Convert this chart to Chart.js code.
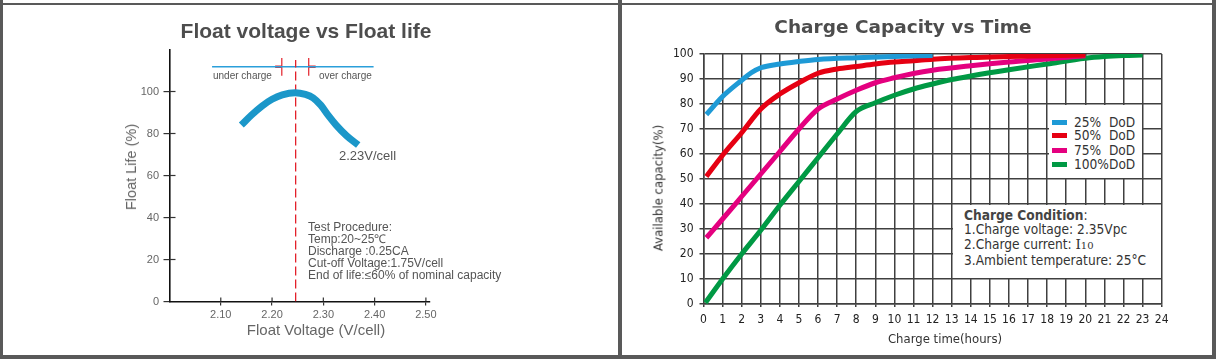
<!DOCTYPE html>
<html><head><meta charset="utf-8">
<script src="https://cdn.jsdelivr.net/npm/chart.js@4.4.1/dist/chart.umd.min.js"></script>
<style>
body{margin:0;width:1216px;height:359px;position:relative;overflow:hidden;background:#fff;}
.t{position:absolute;white-space:pre;line-height:1;}
.c{transform:translate(-50%,-50%);}
.band{position:absolute;background:#595959;}
.box{position:absolute;background:#fff;}
</style></head><body>
<canvas id="c1" width="620" height="359" style="position:absolute;left:0;top:0"></canvas>
<canvas id="c2" width="596" height="359" style="position:absolute;left:620px;top:0"></canvas>

<div class="band" style="left:0;top:0;width:3px;height:359px"></div>
<div class="band" style="left:0;top:3px;width:1216px;height:2px"></div>
<div class="band" style="left:618px;top:0;width:4px;height:359px"></div>
<div class="band" style="left:1212px;top:0;width:4px;height:359px"></div>
<div class="band" style="left:0;top:355px;width:1216px;height:4px"></div>

<!-- left chart texts -->
<div class="t c" style="left:306px;top:31px;font:bold 21px 'Liberation Sans',Arial,sans-serif;color:#4d4d4d">Float voltage vs Float life</div>
<div class="t c" style="left:130.5px;top:167px;transform:translate(-50%,-50%) rotate(-90deg);font:14.5px 'Liberation Sans',Arial,sans-serif;color:#666">Float Life (%)</div>
<div class="t c" style="left:316px;top:329px;font:15px 'Liberation Sans',Arial,sans-serif;color:#666">Float Voltage (V/cell)</div>
<div class="t" style="left:213px;top:70px;font:10px 'Liberation Sans',Arial,sans-serif;color:#555">under charge</div>
<div class="t" style="left:319px;top:70px;font:10px 'Liberation Sans',Arial,sans-serif;color:#555">over charge</div>
<div class="t" style="left:339px;top:147.5px;font:13px 'Liberation Sans',Arial,sans-serif;color:#555">2.23V/cell</div>
<div class="t" style="left:308px;top:220.5px;font:12px 'Liberation Sans',Arial,sans-serif;color:#555;line-height:12px">Test Procedure:
Temp:20~25℃
Discharge :0.25CA
Cut-off Voltage:1.75V/cell
End of life:≤60% of nominal capacity</div>

<!-- right chart texts -->
<div class="t c" style="left:903px;top:26px;font:bold 18.5px 'DejaVu Sans',sans-serif;color:#4d4d4d">Charge Capacity vs Time</div>
<div class="t c" style="left:658px;top:188px;transform:translate(-50%,-50%) rotate(-90deg);font:13px 'DejaVu Sans Condensed','DejaVu Sans',sans-serif;color:#333">Available capacity(%)</div>
<div class="t c" style="left:945px;top:338px;font:13px 'DejaVu Sans Condensed','DejaVu Sans',sans-serif;color:#333">Charge time(hours)</div>
<div class="box" id="legend" style="left:1048.5px;top:105px;width:93px;height:73px"></div>
<div class="box" style="left:953px;top:205px;width:207.5px;height:73px">
<div class="t" style="left:11px;top:3px;font:13.6px 'DejaVu Sans Condensed','DejaVu Sans',sans-serif;color:#333;line-height:14.3px"><b style="color:#444">Charge Condition</b>:
1.Charge voltage: 2.35Vpc
2.Charge current: <span style="font-family:'DejaVu Serif',serif">I<span style="font-size:10px">10</span></span>
3.Ambient temperature: 25°C</div>
</div>

<script>
// ---------- Float voltage vs Float life ----------
const floatVoltage = [2.140, 2.160, 2.180, 2.200, 2.220, 2.245, 2.265, 2.280, 2.295, 2.310, 2.325, 2.345, 2.368];
const floatLife    = [84,    88.8,  93,    96.3,  98.4,  99.4,  98.6,  97,    93.5,  88.5,  84,    79,    74.5];
const floatXTicks  = [2.10, 2.20, 2.30, 2.40, 2.50];
const floatYTicks  = [0, 20, 40, 60, 80, 100];
const optimumVoltage    = [2.246, 2.246];
const optimumLife       = [0, 115];
const chargeBandVoltage = [2.083, 2.398];
const chargeBandLife    = [111.8, 111.8];
const underLimitVoltage = [2.219, 2.219];
const overLimitVoltage  = [2.2715, 2.2715];
const limitLife         = [107.5, 116];
const underArrowVoltage = [2.206, 2.219];
const overArrowVoltage  = [2.2715, 2.285];

// ---------- Charge Capacity vs Time ----------
const hours25    = [0.15, 1, 2, 2.5, 3, 4, 5, 6, 8, 10, 12];
const capacity25 = [75.8, 83, 89.5, 92.5, 94.5, 96, 97, 97.8, 98.5, 99, 99.4];
const hours50    = [0.15, 1, 2, 3, 4, 5, 6, 7, 8, 9, 10, 11, 12, 14, 16, 18, 20];
const capacity50 = [51, 59.5, 68.5, 78, 84, 88.5, 92.3, 94, 95, 96, 96.8, 97.3, 97.9, 98.6, 99, 99.3, 99.6];
const hours75    = [0.15, 1, 2, 3, 4, 5, 6, 7, 8, 9, 10, 11, 12, 14, 16, 18, 20];
const capacity75 = [26.5, 34, 43, 52, 61, 70, 78, 82, 85.5, 88.5, 90.5, 92.2, 93.5, 95.3, 96.8, 98, 99.3];
const hours100    = [0.1, 1, 2, 3, 4, 5, 6, 7, 8, 9, 10, 11, 12, 13, 14, 16, 18, 20, 21, 22, 23];
const capacity100 = [0.5, 10, 20, 29.5, 39.5, 49, 58.5, 68, 77, 80.5, 83.5, 86, 88, 89.8, 91.2, 93.7, 96, 98.3, 99, 99.4, 99.6];
const hourTicks     = [0,1,2,3,4,5,6,7,8,9,10,11,12,13,14,15,16,17,18,19,20,21,22,23,24];
const capacityTicks = [0,10,20,30,40,50,60,70,80,90,100];
const seriesLabels  = ['25%  DoD', '50%  DoD', '75%  DoD', '100%DoD'];
const seriesColors  = ['#1e9ad6', '#e60012', '#e4007f', '#009944'];

const pts = (xs, ys) => xs.map((x, i) => ({x, y: ys[i]}));
const seg = (data, color, width, dash) => ({data, borderColor: color, borderWidth: width, borderDash: dash || [], pointRadius: 0, tension: 0, fill: false});

const innerTicks = {
  id: 'innerTicks',
  afterDatasetsDraw(chart) {
    const {ctx, scales: {x, y}, chartArea: a} = chart;
    ctx.save();
    ctx.strokeStyle = '#333'; ctx.lineWidth = 1.2;
    x.ticks.forEach(t => { const p = x.getPixelForValue(t.value); ctx.beginPath(); ctx.moveTo(p, a.bottom); ctx.lineTo(p, a.bottom - 4); ctx.stroke(); });
    y.ticks.forEach(t => { if (t.value === 0) return; const p = y.getPixelForValue(t.value); ctx.beginPath(); ctx.moveTo(a.left, p); ctx.lineTo(a.left + 6, p); ctx.stroke(); });
    ctx.restore();
  }
};

new Chart(document.getElementById('c1'), {
  type: 'line',
  data: { datasets: [
    {data: pts(floatVoltage, floatLife), borderColor: '#1b97c9', borderWidth: 7, pointRadius: 0, tension: 0.4, cubicInterpolationMode: 'monotone', fill: false},
    seg(pts(optimumVoltage, optimumLife), '#e3202a', 1.3, [9, 4]),
    seg(pts(chargeBandVoltage, chargeBandLife), '#2b9fda', 1.4),
    seg(pts(underLimitVoltage, limitLife), '#e3202a', 1.2),
    seg(pts(overLimitVoltage, limitLife), '#e3202a', 1.2),
    seg(pts(underArrowVoltage, chargeBandLife), '#e3202a', 2.5),
    seg(pts(overArrowVoltage, chargeBandLife), '#e3202a', 2.5)
  ]},
  plugins: [innerTicks],
  options: {
    responsive: false, animation: false, devicePixelRatio: 1,
    layout: {padding: {left: 100, right: 190, top: 49.5, bottom: 27.5}},
    plugins: {legend: {display: false}, tooltip: {enabled: false}},
    scales: {
      x: {type: 'linear', min: 2.0, max: 2.508,
        afterBuildTicks: s => { s.ticks = floatXTicks.map(v => ({value: v})); },
        afterFit: s => { s.height = 30; },
        grid: {drawOnChartArea: false, tickLength: 4, color: '#333', lineWidth: 1.2},
        border: {color: '#111', width: 1.6},
        ticks: {padding: 3, color: '#666', font: {family: "'Liberation Sans', Arial, sans-serif", size: 11}, callback: v => v.toFixed(2), maxRotation: 0}
      },
      y: {type: 'linear', min: 0, max: 120,
        afterBuildTicks: s => { s.ticks = floatYTicks.map(v => ({value: v})); },
        afterFit: s => { s.width = 69.5; },
        grid: {drawOnChartArea: false, tickLength: 6, color: '#333', lineWidth: 1.2},
        border: {color: '#111', width: 1.6},
        ticks: {padding: 4.5, color: '#666', font: {family: "'Liberation Sans', Arial, sans-serif", size: 11}}
      }
    }
  }
});

const series = [[hours25, capacity25], [hours50, capacity50], [hours75, capacity75], [hours100, capacity100]];
const condFont = "'DejaVu Sans Condensed', 'DejaVu Sans', sans-serif";
new Chart(document.getElementById('c2'), {
  type: 'line',
  data: { datasets: series.map((s, i) => ({
    label: seriesLabels[i], data: pts(s[0], s[1]), borderColor: seriesColors[i], borderWidth: 5,
    pointRadius: 0, tension: 0.4, cubicInterpolationMode: 'monotone', fill: false, borderCapStyle: 'butt'
  }))},
  options: {
    responsive: false, animation: false, devicePixelRatio: 1,
    layout: {padding: {left: 40, right: 54.3, top: 54, bottom: 25}},
    plugins: {legend: {display: false}, tooltip: {enabled: false}},
    scales: {
      x: {type: 'linear', min: 0, max: 24,
        afterBuildTicks: s => { s.ticks = hourTicks.map(v => ({value: v})); },
        afterFit: s => { s.height = 30; },
        grid: {color: '#404040', lineWidth: 1.5, tickLength: 3},
        border: {color: '#404040', width: 1.5},
        ticks: {padding: 6, color: '#222', autoSkip: false, maxRotation: 0, font: {family: condFont, size: 12}}
      },
      y: {type: 'linear', min: 0, max: 100,
        afterBuildTicks: s => { s.ticks = capacityTicks.map(v => ({value: v})); },
        afterFit: s => { s.width = 43.5; },
        grid: {color: '#404040', lineWidth: 1.5, tickLength: 4},
        border: {color: '#404040', width: 1.5},
        ticks: {padding: 6, color: '#222', font: {family: condFont, size: 12}}
      }
    }
  }
});

// HTML legend built from series labels/colors
const lg = document.getElementById('legend');
const rowY = [17.7, 30.7, 45.7, 59.3];
seriesLabels.forEach((lab, i) => {
  const sw = document.createElement('div');
  sw.style.cssText = `position:absolute;left:3.5px;top:${rowY[i]-2.5}px;width:15px;height:5px;background:${seriesColors[i]}`;
  lg.appendChild(sw);
  const tx = document.createElement('div');
  tx.className = 't';
  tx.textContent = lab;
  tx.style.cssText += `left:25.5px;top:${rowY[i]-7.5}px;font:13.6px ${condFont};color:#333;white-space:pre;line-height:15px`;
  lg.appendChild(tx);
});
</script>
</body></html>
